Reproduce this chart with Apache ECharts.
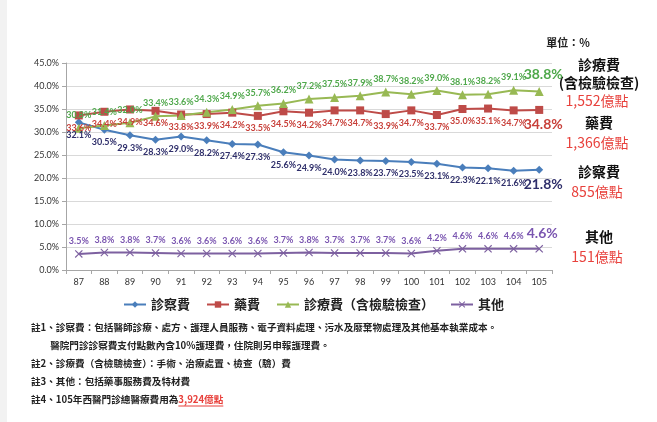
<!DOCTYPE html>
<html>
<head>
<meta charset="utf-8">
<script src="https://cdn.jsdelivr.net/npm/echarts@6/dist/echarts.min.js"></script>
<style>
  html, body { margin: 0; padding: 0; background: #fff; }
  #chart { width: 657px; height: 422px; }
</style>
</head>
<body>
<div id="chart"></div>
<script>
// 年度（民國）
const years = ['87','88','89','90','91','92','93','94','95','96','97','98','99','100','101','102','103','104','105'];
// 各項費用占率（%）
const consultFee = [32.1, 30.5, 29.3, 28.3, 29.0, 28.2, 27.4, 27.3, 25.6, 24.9, 24.0, 23.8, 23.7, 23.5, 23.1, 22.3, 22.1, 21.6, 21.8];
const drugFee    = [33.6, 34.4, 34.9, 34.6, 33.8, 33.9, 34.2, 33.5, 34.5, 34.2, 34.7, 34.7, 33.9, 34.7, 33.7, 35.0, 35.1, 34.7, 34.8];
const treatFee   = [30.8, 31.4, 32.0, 33.4, 33.6, 34.3, 34.9, 35.7, 36.2, 37.2, 37.5, 37.9, 38.7, 38.2, 39.0, 38.1, 38.2, 39.1, 38.8];
const otherFee   = [3.5, 3.8, 3.8, 3.7, 3.6, 3.6, 3.6, 3.6, 3.7, 3.8, 3.7, 3.7, 3.7, 3.6, 4.2, 4.6, 4.6, 4.6, 4.6];
const seriesNames = ['診察費', '藥費', '診療費（含檢驗檢查）', '其他'];
const yTicks = [0, 5, 10, 15, 20, 25, 30, 35, 40, 45];

const sideNotes = [
  { lines: ['診療費', '(含檢驗檢查)'], amount: '1,552億點' },
  { lines: ['藥費'], amount: '1,366億點' },
  { lines: ['診察費'], amount: '855億點' },
  { lines: ['其他'], amount: '151億點' }
];
const footNotes = [
  '註1、診察費：包括醫師診療、處方、護理人員服務、電子資料處理、污水及廢棄物處理及其他基本執業成本。',
  '　　醫院門診診察費支付點數內含10%護理費，住院則另申報護理費。',
  '註2、診療費（含檢驗檢查）：手術、治療處置、檢查（驗）費',
  '註3、其他：包括藥事服務費及特材費'
];
const lastNotePrefix = '註4、105年西醫門診總醫療費用為';
const lastNoteAmount = '3,924億點';

const CJK = '"Noto Sans CJK TC", "Noto Sans CJK SC", sans-serif';
const NUM = 'Lato, "Open Sans", sans-serif';

const crossPath = 'path://M0,1L1,0L5,4L9,0L10,1L6,5L10,9L9,10L5,6L1,10L0,9L4,5Z';

function buildData(values, bigColor, bigOffset) {
  const last = values.length - 1;
  return values.map((v, i) => i === last
    ? { value: v, label: { fontSize: 14, fontWeight: 'bold', color: bigColor, offset: bigOffset } }
    : v);
}

function lineSeries(name, values, color, labelColor, symbol, size, pos, bigOffset) {
  return {
    name: name,
    type: 'line',
    data: buildData(values, labelColor, bigOffset),
    symbol: symbol,
    symbolSize: size,
    lineStyle: { color: color, width: 2 },
    itemStyle: { color: color },
    label: {
      show: true,
      position: pos,
      distance: 4,
      formatter: p => p.value.toFixed(1) + '%',
      fontFamily: NUM,
      fontSize: 9,
      fontWeight: 'bold',
      color: labelColor
    },
    emphasis: { disabled: true },
    animation: false
  };
}

function txt(x, y, text, size, weight, color, align, family) {
  return {
    type: 'text', x: x, y: y, silent: true,
    style: {
      text: text, fontSize: size, fontWeight: weight, fontFamily: family || CJK,
      fill: color, align: align || 'left', verticalAlign: 'middle'
    }
  };
}

const graphics = [
  { type: 'rect', shape: { x: 0, y: 0, width: 7, height: 422 }, style: { fill: '#f2f2f2' }, silent: true },
  txt(568, 43, '單位：%', 11, 'bold', '#222', 'center')
];

const sideY = [[65, 83, 101], [123, 143], [172, 192], [237, 257]];
sideNotes.forEach((n, k) => {
  n.lines.forEach((t, j) => {
    graphics.push(txt(599, sideY[k][j], t, 14, 'bold', '#111', 'center'));
  });
  graphics.push(txt(597, sideY[k][n.lines.length], n.amount, 14, 'normal', '#e8413c', 'center'));
});

const noteSize = 9.6;
const noteY = [327, 345, 363, 381];
footNotes.forEach((t, i) => {
  graphics.push(txt(31, noteY[i], t, noteSize, 'bold', '#222'));
});
// 最後一則註記：金額以紅色加底線標示
const ctx = document.createElement('canvas').getContext('2d');
ctx.font = 'bold ' + noteSize + 'px ' + CJK;
const prefixW = ctx.measureText(lastNotePrefix).width;
const amountW = ctx.measureText(lastNoteAmount).width;
graphics.push(txt(31, 399, lastNotePrefix, noteSize, 'bold', '#222'));
graphics.push(txt(31 + prefixW, 399, lastNoteAmount, noteSize, 'bold', '#e8413c'));
graphics.push({ type: 'line', silent: true, shape: { x1: 31 + prefixW, y1: 406, x2: 31 + prefixW + amountW, y2: 406 }, style: { stroke: '#e8413c', lineWidth: 1 } });

const chart = echarts.init(document.getElementById('chart'), null, { renderer: 'canvas' });
chart.setOption({
  backgroundColor: '#fff',
  animation: false,
  grid: { left: 66, right: 105, top: 63, bottom: 152 },
  legend: {
    data: seriesNames,
    left: 118,
    top: 293,
    itemWidth: 22,
    itemHeight: 8,
    itemGap: 16,
    textStyle: { fontFamily: CJK, fontSize: 13, fontWeight: 'bold', color: '#222' }
  },
  xAxis: {
    type: 'category',
    data: years,
    boundaryGap: true,
    axisLine: { lineStyle: { color: '#a6a6a6' } },
    axisTick: { show: true, length: 4, lineStyle: { color: '#a6a6a6' } },
    axisLabel: { fontFamily: NUM, fontSize: 9, color: '#333', margin: 8 }
  },
  yAxis: {
    type: 'value',
    min: yTicks[0],
    max: yTicks[yTicks.length - 1],
    interval: yTicks[1] - yTicks[0],
    axisLine: { show: true, lineStyle: { color: '#a6a6a6' } },
    axisTick: { show: true, length: 4, lineStyle: { color: '#a6a6a6' } },
    axisLabel: { fontFamily: NUM, fontSize: 9, color: '#333', margin: 7, formatter: v => v.toFixed(1) + '%' },
    splitLine: { lineStyle: { color: '#d9d9d9', width: 1 } }
  },
  series: [
    lineSeries(seriesNames[0], consultFee, '#4a7ebb', '#2f2f6b', 'diamond', 8, 'bottom', [4, 0]),
    lineSeries(seriesNames[1], drugFee, '#be4b48', '#c8403a', 'rect', 8, 'bottom', [4, 0]),
    lineSeries(seriesNames[2], treatFee, '#98b954', '#4fa84b', 'triangle', 9, 'top', [4, -2]),
    lineSeries(seriesNames[3], otherFee, '#7d60a0', '#7a55b0', crossPath, 8, 'top', [3, 0])
  ],
  graphic: graphics
});
</script>
</body>
</html>
